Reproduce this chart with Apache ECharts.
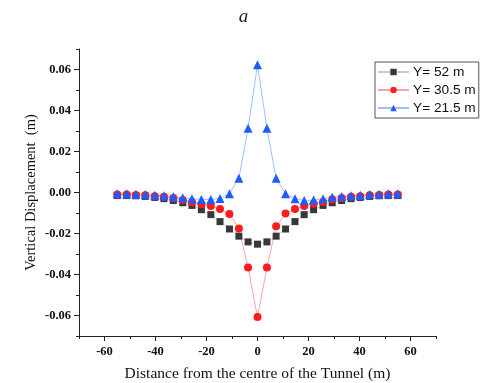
<!DOCTYPE html>
<html>
<head>
<meta charset="utf-8">
<script src="https://cdn.jsdelivr.net/npm/echarts@6/dist/echarts.min.js"></script>
<style>
  html, body { margin: 0; padding: 0; background: #fff; }
  #chart { width: 487px; height: 383px; }
</style>
</head>
<body>
<div id="chart"></div>
<script>
// distance from tunnel centre (m)
const distances = [-55, -51.3, -47.7, -44, -40.3, -36.7, -33, -29.3, -25.7, -22, -18.3, -14.7, -11, -7.3, -3.7, 0,
  3.7, 7.3, 11, 14.7, 18.3, 22, 25.7, 29.3, 33, 36.7, 40.3, 44, 47.7, 51.3, 55];

const y52 = [-0.0015, -0.0015, -0.0016, -0.0019, -0.0024, -0.003, -0.0039, -0.005, -0.0063, -0.0084, -0.0108, -0.0142, -0.0178, -0.0213, -0.0241, -0.0252,
  -0.0241, -0.0213, -0.0178, -0.0142, -0.0108, -0.0084, -0.0063, -0.005, -0.0039, -0.003, -0.0024, -0.0019, -0.0016, -0.0015, -0.0015];

const y305 = [-0.001, -0.001, -0.0012, -0.0014, -0.0018, -0.0021, -0.0027, -0.0036, -0.0047, -0.0057, -0.0066, -0.0081, -0.0105, -0.0176, -0.0366, -0.0607,
  -0.0366, -0.0165, -0.0103, -0.0081, -0.0066, -0.0055, -0.0046, -0.0034, -0.0027, -0.0021, -0.0018, -0.0014, -0.0012, -0.001, -0.001];

const y215 = [-0.0006, -0.0006, -0.0008, -0.001, -0.0013, -0.0016, -0.0021, -0.0026, -0.003, -0.0034, -0.0034, -0.0029, -0.0006, 0.0069, 0.0313, 0.0623,
  0.0313, 0.0069, -0.0006, -0.003, -0.0039, -0.0037, -0.003, -0.0023, -0.0019, -0.0016, -0.0013, -0.001, -0.0008, -0.0006, -0.0006];

const seriesNames = ["Y= 52 m", "Y= 30.5 m", "Y= 21.5 m"];

// labelled (major) ticks
const xTicks = [-60, -40, -20, 0, 20, 40, 60];
const yTicks = [-0.06, -0.04, -0.02, 0, 0.02, 0.04, 0.06];

const pairs = (ys) => distances.map((x, i) => [x, ys[i]]);

const chart = echarts.init(document.getElementById("chart"));

const serif = "'Liberation Serif', 'DejaVu Serif', serif";
const tickLabel = { color: "#111", fontFamily: serif, fontWeight: "bold", fontSize: 12.5 };
const axisColor = "#222";

// main axes carry line, labels and long ticks; overlay axes carry the short ticks every 10 / 0.01
chart.setOption({
  animation: false,
  title: {
    text: "a",
    left: "center",
    top: 2,
    textStyle: { fontFamily: serif, fontStyle: "italic", fontWeight: "normal", fontSize: 19, color: "#222" },
  },
  grid: { left: 79, right: 51, top: 49, bottom: 47, containLabel: false, outerBoundsMode: "none" },
  legend: {
    data: seriesNames,
    orient: "vertical",
    left: 375,
    top: 62,
    padding: [3, 3, 3, 2],
    itemWidth: 31,
    itemHeight: 8,
    itemGap: 4,
    borderColor: "#555",
    borderWidth: 1,
    borderRadius: 0,
    textStyle: { fontFamily: "'Liberation Sans', Arial, sans-serif", fontSize: 13.7, color: "#111", padding: [0, 0, 0, -1] },
  },
  xAxis: [
    {
      type: "value",
      min: -70,
      max: 70,
      name: "Distance from the centre of the Tunnel (m)",
      nameLocation: "middle",
      nameGap: 30,
      nameTextStyle: { fontFamily: serif, fontSize: 15.5, color: "#111" },
      axisLine: { onZero: false, lineStyle: { color: axisColor, width: 1 } },
      axisTick: { show: true, length: 5, customValues: xTicks, lineStyle: { color: axisColor } },
      splitLine: { show: false },
      axisLabel: Object.assign({ margin: 9, customValues: xTicks }, tickLabel),
    },
    {
      type: "value",
      min: -70,
      max: 70,
      interval: 10,
      position: "bottom",
      axisLine: { show: false, onZero: false },
      axisTick: { show: true, length: 3, lineStyle: { color: axisColor } },
      splitLine: { show: false },
      axisLabel: { show: false },
    },
  ],
  yAxis: [
    {
      type: "value",
      min: -0.07,
      max: 0.07,
      name: "Vertical Displacement  (m)",
      nameLocation: "middle",
      nameGap: 40,
      nameMoveOverlap: false,
      nameTextStyle: { fontFamily: serif, fontSize: 14.5, color: "#111" },
      axisLine: { show: true, onZero: false, lineStyle: { color: axisColor, width: 1 } },
      axisTick: { show: true, length: 5, customValues: yTicks, lineStyle: { color: axisColor } },
      splitLine: { show: false },
      axisLabel: Object.assign({
        margin: 8,
        customValues: yTicks,
        formatter: (v) => v.toFixed(2),
      }, tickLabel),
    },
    {
      type: "value",
      min: -0.07,
      max: 0.07,
      interval: 0.01,
      position: "left",
      axisLine: { show: false, onZero: false },
      axisTick: { show: true, length: 3, lineStyle: { color: axisColor } },
      splitLine: { show: false },
      axisLabel: { show: false },
    },
  ],
  series: [
    {
      name: seriesNames[0],
      type: "line",
      data: pairs(y52),
      symbol: "rect",
      symbolSize: 7,
      itemStyle: { color: "#383838" },
      lineStyle: { color: "#cccccc", width: 1 },
    },
    {
      name: seriesNames[1],
      type: "line",
      data: pairs(y305),
      symbol: "circle",
      symbolSize: 8,
      itemStyle: { color: "#ff1c1c" },
      lineStyle: { color: "#ffa4a4", width: 1 },
    },
    {
      name: seriesNames[2],
      type: "line",
      data: pairs(y215),
      symbol: "triangle",
      symbolSize: 9,
      itemStyle: { color: "#1f5cff" },
      lineStyle: { color: "#9cc0ff", width: 1 },
    },
  ],
});
</script>
</body>
</html>
